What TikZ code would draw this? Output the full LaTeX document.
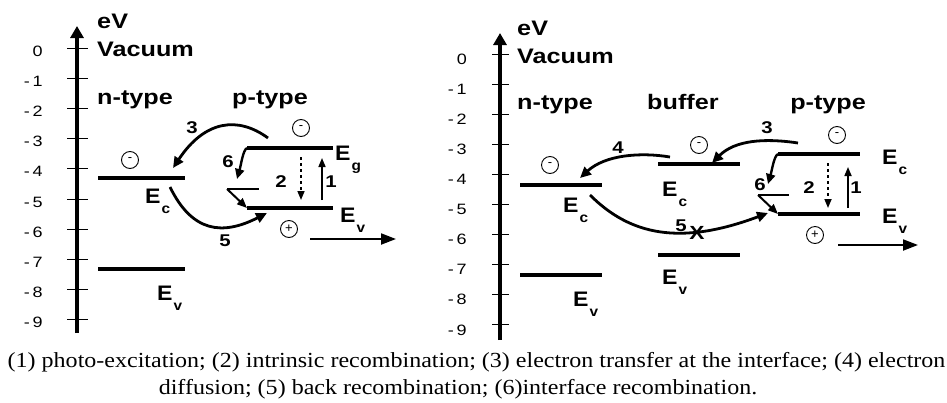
\documentclass[tikz,border=0pt]{standalone}
\usepackage{fontspec}
\setmainfont{Liberation Serif}
\newfontfamily\arialfont{Liberation Sans}
\usetikzlibrary{arrows.meta, positioning}
\newcommand{\labfont}{\arialfont\bfseries\fontsize{21}{23}\selectfont}
\newcommand{\tickfont}{\arialfont\fontsize{15}{17}\selectfont}
\newcommand{\numfont}{\arialfont\bfseries\fontsize{17}{19}\selectfont}
\newcommand{\efont}{\arialfont\bfseries\fontsize{21}{23}\selectfont}
\newcommand{\band}[1]{E\hspace{1pt}\raisebox{-10pt}{\fontsize{14}{14}\selectfont #1}}
\tikzset{
  level/.style={line width=3.2pt},
  axisline/.style={line width=3.5pt, -{Triangle[length=12pt, width=13pt]}},
  tickline/.style={line width=1pt},
  ticklab/.style={font=\tickfont, anchor=east, inner sep=0pt, xscale=1.2},
  lab/.style={font=\labfont, anchor=base west, inner sep=0pt, xscale=1.2},
  bandlab/.style={font=\efont, anchor=base west, inner sep=0pt, xscale=1.1},
  numlab/.style={font=\numfont, inner sep=0pt, xscale=1.2},
  carrier/.style={circle, draw, line width=0.9pt, minimum size=17pt,
    inner sep=0pt, font=\arialfont\fontsize{13}{13}\selectfont},
  transfer/.style={line width=2.8pt, -{Triangle[length=11pt, width=10pt]}},
  thinarrow/.style={line width=1.6pt, -{Triangle[length=9pt, width=7pt]}},
  outarrow/.style={line width=2pt, -{Triangle[length=15pt, width=11pt]}},
  captext/.style={font=\fontsize{21.5}{24}\selectfont, inner sep=0pt, xscale=1.117}
}
\begin{document}
\begin{tikzpicture}[x=1pt, y=-1pt]
  \useasboundingbox (0,0) rectangle (947,402);

  % Left panel: axis
  \coordinate (laxbot) at (77,333);
  \coordinate (laxtop) at (77,26);
  \draw[axisline] (laxbot) -- (laxtop);
  \foreach \i in {0,...,9} {
    \pgfmathsetmacro{\ty}{48+30.2*\i}
    \draw[tickline] (67,\ty) -- (88,\ty);
    \node[ticklab] (ltick\i) at (43,\ty+3) {\ifnum\i=0 0\else -\hspace{2.5pt}\i\fi};
  }
  \node[lab] (leV) at (97,28) {eV};
  \node[lab] (lvac) at (97,56) {Vacuum};
  \node[lab] (lntype) at (97,104) {n-type};
  \node[lab] (lptype) at (232,104) {p-type};

  % Left panel: levels
  \coordinate (lnEcW) at (98,178);  \coordinate (lnEcE) at (185,178);
  \coordinate (lnEvW) at (98,269);  \coordinate (lnEvE) at (185,269);
  \coordinate (lpEgW) at (247,148); \coordinate (lpEgE) at (333,148);
  \coordinate (lpEvW) at (247,208); \coordinate (lpEvE) at (333,208);
  \coordinate (lstW) at (227,189);  \coordinate (lstE) at (259,189);
  \draw[level] (lnEcW) -- (lnEcE);
  \draw[level] (lnEvW) -- (lnEvE);
  \draw[level] (lpEgW) -- (lpEgE);
  \draw[level] (lpEvW) -- (lpEvE);
  \draw[line width=2.4pt] (lstW) -- (lstE);
  \node[bandlab] (lnEc) at (145,203) {\band{c}};
  \node[bandlab] (lnEv) at (157,300) {\band{v}};
  \node[bandlab] (lpEg) at (335,160) {\band{g}};
  \node[bandlab] (lpEv) at (340,222) {\band{v}};
  \node[carrier] (lnel) at (130,160) {-};
  \node[carrier] (lpel) at (301,128) {-};
  \node[carrier] (lphole) at (289,229) {+};

  % Left panel: processes
  \coordinate (l3a) at (268,138);  \coordinate (l3b) at (173,168);
  \coordinate (l5a) at (170,187);  \coordinate (l5b) at (267,213);
  \coordinate (l6b) at (237,179);
  \coordinate (l2a) at (301,157);  \coordinate (l2b) at (301,200);
  \coordinate (l1a) at (322,200);  \coordinate (l1b) at (322,158);
  \coordinate (loutA) at (310,239); \coordinate (loutB) at (396,239);
  \draw[transfer] (l3a) .. controls (238,116) and (205,120) .. (l3b);
  \draw[transfer] (l5a) .. controls (192,232) and (222,236) .. (l5b);
  \draw[line width=2.4pt, -{Triangle[length=10pt, width=9pt]}] (lpEgW) .. controls (243,150) and (241,165) .. (l6b);
  \draw[line width=2pt, -{Triangle[length=10pt, width=8pt]}] (lstW) -- (lpEvW);
  \draw[thinarrow, dashed] (l2a) -- (l2b);
  \draw[thinarrow] (l1a) -- (l1b);
  \draw[outarrow] (loutA) -- (loutB);
  \node[numlab] (l3) at (192,128) {3};
  \node[numlab] (l5) at (225,241) {5};
  \node[numlab] (l6) at (228,162) {6};
  \node[numlab] (l2) at (281,182) {2};
  \node[numlab] (l1) at (331,182) {1};

  % Right panel: axis
  \coordinate (raxbot) at (500,340);
  \coordinate (raxtop) at (500,33);
  \draw[axisline] (raxbot) -- (raxtop);
  \foreach \i in {0,...,9} {
    \pgfmathsetmacro{\ty}{54+30.1*\i}
    \draw[tickline] (492,\ty) -- (509,\ty);
    \node[ticklab] (rtick\i) at (467,\ty+5) {\ifnum\i=0 0\else -\hspace{2.5pt}\i\fi};
  }
  \node[lab] (reV) at (517,35) {eV};
  \node[lab] (rvac) at (517,63) {Vacuum};
  \node[lab] (rntype) at (517,109) {n-type};
  \node[lab] (rbuffer) at (647,109) {buffer};
  \node[lab] (rptype) at (790,109) {p-type};

  % Right panel: levels
  \coordinate (rnEcW) at (520,185); \coordinate (rnEcE) at (602,185);
  \coordinate (rnEvW) at (520,275); \coordinate (rnEvE) at (602,275);
  \coordinate (rbEcW) at (658,164); \coordinate (rbEcE) at (740,164);
  \coordinate (rbEvW) at (658,255); \coordinate (rbEvE) at (740,255);
  \coordinate (rpEcW) at (778,154); \coordinate (rpEcE) at (860,154);
  \coordinate (rpEvW) at (778,214); \coordinate (rpEvE) at (860,214);
  \coordinate (rstW) at (758,195);  \coordinate (rstE) at (789,195);
  \draw[level] (rnEcW) -- (rnEcE);
  \draw[level] (rnEvW) -- (rnEvE);
  \draw[level] (rbEcW) -- (rbEcE);
  \draw[level] (rbEvW) -- (rbEvE);
  \draw[level] (rpEcW) -- (rpEcE);
  \draw[level] (rpEvW) -- (rpEvE);
  \draw[line width=2.4pt] (rstW) -- (rstE);
  \node[bandlab] (rnEc) at (563,212) {\band{c}};
  \node[bandlab] (rnEv) at (573,306) {\band{v}};
  \node[bandlab] (rbEc) at (662,196) {\band{c}};
  \node[bandlab] (rbEv) at (662,284) {\band{v}};
  \node[bandlab] (rpEc) at (882,164) {\band{c}};
  \node[bandlab] (rpEv) at (882,223) {\band{v}};
  \node[carrier] (rnel) at (550,165) {-};
  \node[carrier] (rbel) at (699,145) {-};
  \node[carrier] (rpel) at (837,135) {-};
  \node[carrier] (rphole) at (815,235) {+};

  % Right panel: processes
  \coordinate (r3a) at (798,143);  \coordinate (r3b) at (712,163);
  \coordinate (r4a) at (670,157);  \coordinate (r4b) at (580,178);
  \coordinate (r5a) at (590,195);  \coordinate (r5b) at (768,213);
  \coordinate (r6b) at (768,184);
  \coordinate (r2a) at (828,163);  \coordinate (r2b) at (828,208);
  \coordinate (r1a) at (848,208);  \coordinate (r1b) at (848,167);
  \coordinate (routA) at (838,245); \coordinate (routB) at (918,245);
  \draw[transfer] (r3a) .. controls (765,138) and (735,140) .. (r3b);
  \draw[transfer] (r4a) .. controls (640,152) and (605,155) .. (r4b);
  \draw[transfer] (r5a) .. controls (630,235) and (680,246) .. (r5b);
  \draw[line width=2.4pt, -{Triangle[length=10pt, width=9pt]}] (rpEcW) .. controls (774,156) and (772,170) .. (r6b);
  \draw[line width=2pt, -{Triangle[length=10pt, width=8pt]}] (rstW) -- (rpEvW);
  \draw[thinarrow, dashed] (r2a) -- (r2b);
  \draw[thinarrow] (r1a) -- (r1b);
  \draw[outarrow] (routA) -- (routB);
  \node[numlab] (r3) at (767,128) {3};
  \node[numlab] (r4) at (618,148) {4};
  \node[numlab] (r5) at (681,226) {5};
  \node[numlab] (r6) at (760,185) {6};
  \node[numlab] (r2) at (809,188) {2};
  \node[numlab] (r1) at (856,188) {1};
  \node[font=\arialfont\bfseries\fontsize{19}{19}\selectfont, inner sep=0pt, xscale=1.2] (rblock) at (697,233) {X};

  % Caption
  \node[captext] (capA) at (476.5,362)
    {(1) photo-excitation; (2) intrinsic recombination; (3) electron transfer at the interface; (4) electron};
  \node[captext] (capB) at (458,389)
    {diffusion; (5) back recombination; (6)interface recombination.};
\end{tikzpicture}
\end{document}
